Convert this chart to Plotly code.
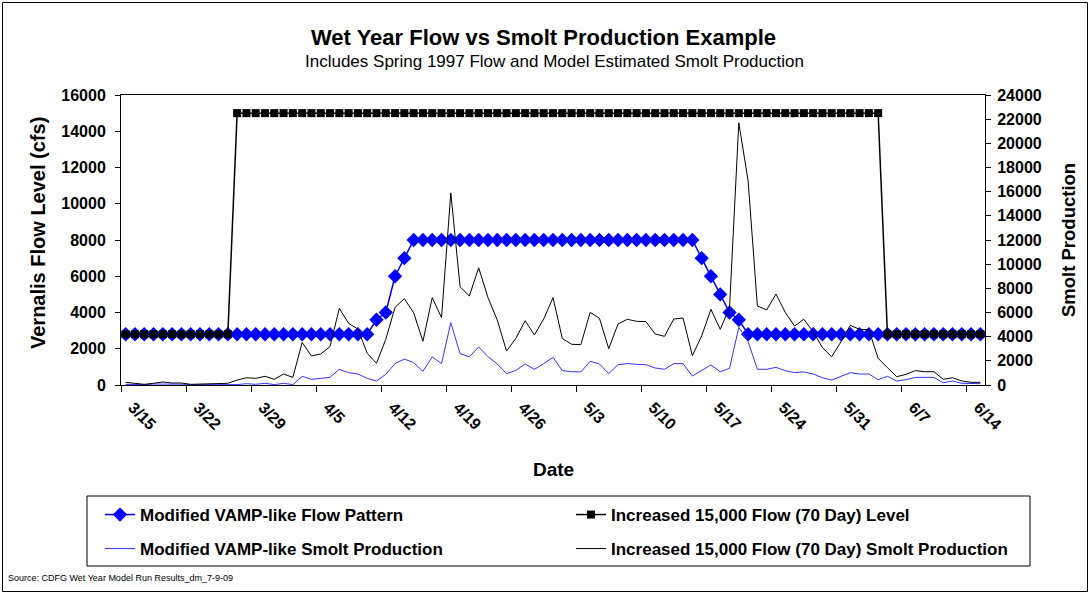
import pandas as pd
import plotly.graph_objects as go

# ---------------- data ----------------
start_date = "1997-03-15"
n_days = 93
dates = pd.date_range(start_date, periods=n_days, freq="D")

vamp_flow = [2800, 2800, 2800, 2800, 2800, 2800, 2800, 2800, 2800, 2800,
             2800, 2800, 2800, 2800, 2800, 2800, 2800, 2800, 2800, 2800,
             2800, 2800, 2800, 2800, 2800, 2800, 2800, 3600, 4000, 6000,
             7000, 8000, 8000, 8000, 8000, 8000, 8000, 8000, 8000, 8000,
             8000, 8000, 8000, 8000, 8000, 8000, 8000, 8000, 8000, 8000,
             8000, 8000, 8000, 8000, 8000, 8000, 8000, 8000, 8000, 8000,
             8000, 8000, 7000, 6000, 5000, 4000, 3600, 2800, 2800, 2800,
             2800, 2800, 2800, 2800, 2800, 2800, 2800, 2800, 2800, 2800,
             2800, 2800, 2800, 2800, 2800, 2800, 2800, 2800, 2800, 2800,
             2800, 2800, 2800]

increased_flow = [2800, 2800, 2800, 2800, 2800, 2800, 2800, 2800, 2800, 2800,
                  2800, 2800, 15000, 15000, 15000, 15000, 15000, 15000, 15000, 15000,
                  15000, 15000, 15000, 15000, 15000, 15000, 15000, 15000, 15000, 15000,
                  15000, 15000, 15000, 15000, 15000, 15000, 15000, 15000, 15000, 15000,
                  15000, 15000, 15000, 15000, 15000, 15000, 15000, 15000, 15000, 15000,
                  15000, 15000, 15000, 15000, 15000, 15000, 15000, 15000, 15000, 15000,
                  15000, 15000, 15000, 15000, 15000, 15000, 15000, 15000, 15000, 15000,
                  15000, 15000, 15000, 15000, 15000, 15000, 15000, 15000, 15000, 15000,
                  15000, 15000, 2800, 2800, 2800, 2800, 2800, 2800, 2800, 2800,
                  2800, 2800, 2800]

vamp_smolt = [55, 20, 30, 80, 90, 80, 70, 30, 30, 40,
              50, 40, 30, 110, 55, 140, 30, 140, 30, 720,
              470, 550, 630, 1300, 1020, 910, 550, 330, 880, 1770,
              2150, 1850, 1130, 2320, 1770, 5160, 2590, 2340, 3150, 2340,
              1740, 940, 1210, 1740, 1300, 1770, 2290, 1190, 1100, 1080,
              1960, 1740, 940, 1680, 1770, 1710, 1680, 1410, 1300, 1770,
              1770, 740, 1190, 1660, 1100, 1380, 4770, 3590, 1300, 1300,
              1460, 1190, 1020, 1080, 910, 600, 410, 740, 1020, 910,
              910, 440, 720, 330, 440, 630, 630, 630, 190, 330,
              140, 110, 110]

increased_smolt = [220, 110, 55, 140, 250, 165, 165, 55, 80, 80,
                   140, 140, 410, 600, 550, 720, 470, 910, 630, 3530,
                   2400, 2570, 3180, 6345, 5100, 4630, 2620, 1790, 3780, 6430,
                   7140, 5980, 3620, 7230, 5570, 15900, 8120, 7370, 9700, 7230,
                   5380, 2810, 3860, 5320, 4140, 5460, 7230, 3860, 3370, 3340,
                   6010, 5520, 3010, 5050, 5440, 5270, 5240, 4220, 4030, 5460,
                   5540, 2430, 4060, 6260, 4610, 6400, 21700, 16900, 6540, 6210,
                   7530, 6010, 4880, 5440, 4410, 3090, 2340, 3580, 4940, 4610,
                   4550, 2210, 1430, 690, 880, 1190, 1100, 1100, 470, 600,
                   330, 220, 220]

series_names = ["Modified VAMP-like Flow Pattern",
                "Increased 15,000 Flow (70 Day) Level",
                "Modified VAMP-like Smolt Production",
                "Increased 15,000 Flow (70 Day) Smolt Production"]

title_text = "Wet Year Flow vs Smolt Production Example"
subtitle_text = "Includes Spring 1997 Flow and Model Estimated Smolt Production"
source_text = "Source: CDFG Wet Year Model Run Results_dm_7-9-09"

# ---------------- figure ----------------
FONT = "Liberation Sans, Arial, sans-serif"
W, H = 1090, 594
L, R, T, B = 121, 105, 95, 209
PW, PH = W - L - R, H - T - B

# each day's point sits in the middle of its day slot (Excel "between tick marks")
x_pos = dates + pd.Timedelta(hours=12)

fig = go.Figure()
fig.add_trace(go.Scatter(
    x=x_pos, y=vamp_flow, name=series_names[0], mode="lines+markers",
    line=dict(color="#0000FF", width=1.5),
    marker=dict(symbol="diamond", size=11, color="#0000FF"),
    yaxis="y", legend="legend"))
fig.add_trace(go.Scatter(
    x=x_pos, y=increased_flow, name=series_names[1], mode="lines+markers",
    line=dict(color="#000000", width=1.5),
    marker=dict(symbol="square", size=8, color="#000000"),
    yaxis="y", legend="legend"))
fig.add_trace(go.Scatter(
    x=x_pos, y=vamp_smolt, name=series_names[2], mode="lines",
    line=dict(color="#3333FF", width=1),
    yaxis="y2", legend="legend2"))
fig.add_trace(go.Scatter(
    x=x_pos, y=increased_smolt, name=series_names[3], mode="lines",
    line=dict(color="#000000", width=1),
    yaxis="y2", legend="legend2"))

tickfont = dict(family=FONT, size=16, color="black", weight="bold")


def py(ypix):
    return (H - B - ypix) / PH


def px(xpix):
    return (xpix - L) / PW


legend_common = dict(
    orientation="h", xanchor="left", yanchor="middle",
    entrywidth=426, entrywidthmode="pixels",
    borderwidth=0, bgcolor="rgba(0,0,0,0)",
    font=dict(family=FONT, size=17, color="black", weight="bold"),
)

fig.update_layout(
    width=W, height=H,
    margin=dict(l=L, r=R, t=T, b=B, autoexpand=False),
    paper_bgcolor="white", plot_bgcolor="white",
    font=dict(family=FONT, color="black"),
    showlegend=True,
    xaxis=dict(
        type="date",
        range=[dates[0], dates[-1] + pd.Timedelta(days=1)],
        tick0=dates[0], dtick=7 * 86400000, tickformat="%-m/%-d",
        tickangle=45, ticks="outside", ticklen=6, tickcolor="black",
        showline=True, linecolor="black", linewidth=1, mirror=True,
        showgrid=False, zeroline=False, tickfont=tickfont,
        ticklabelshift=12,
    ),
    yaxis=dict(
        range=[0, 16000], dtick=2000, tickformat="d",
        ticks="outside", ticklen=5, tickcolor="black",
        showline=True, linecolor="black", linewidth=1,
        showgrid=False, zeroline=False, tickfont=tickfont,
        ticklabelstandoff=6,
    ),
    yaxis2=dict(
        range=[0, 24000], dtick=2000, tickformat="d",
        overlaying="y", side="right",
        ticks="outside", ticklen=5, tickcolor="black",
        showline=True, linecolor="black", linewidth=1,
        showgrid=False, zeroline=False, tickfont=tickfont,
        ticklabelstandoff=3,
    ),
    legend=dict(x=px(100), y=py(515), **legend_common),
    legend2=dict(x=px(100), y=py(549), **legend_common),
)

annotations = [
    dict(text=title_text, x=px(543), y=py(38), font=dict(size=22, weight="bold")),
    dict(text=subtitle_text, x=px(554), y=py(61), font=dict(size=17)),
    dict(text="Vernalis Flow Level (cfs)", x=px(38), y=py(233), textangle=-90,
         font=dict(size=20, weight="bold")),
    dict(text="Smolt Production", x=px(1068), y=py(240), textangle=-90,
         font=dict(size=18.5, weight="bold")),
    dict(text="Date", x=px(553), y=py(469), font=dict(size=19, weight="bold")),
    dict(text=source_text, x=px(6), y=py(578), xanchor="left",
         font=dict(size=9)),
]
for a in annotations:
    a.update(xref="paper", yref="paper", showarrow=False)
    a.setdefault("xanchor", "center")
    a["yanchor"] = "middle"
    a["font"].update(family=FONT, color="black")
fig.update_layout(annotations=annotations)

# legend box
fig.add_shape(type="rect", xref="paper", yref="paper",
              x0=px(87), x1=px(1030), y0=py(566), y1=py(496),
              line=dict(color="black", width=1), fillcolor="rgba(0,0,0,0)")
# chart-area border
fig.add_shape(type="rect", xref="paper", yref="paper",
              x0=px(2.5), x1=px(W - 2.5), y0=py(H - 2.5), y1=py(2.5),
              line=dict(color="black", width=1), fillcolor="rgba(0,0,0,0)")

fig.write_html("out.html", config={"displayModeBar": False},
               post_script="document.body.style.margin='0px';")
